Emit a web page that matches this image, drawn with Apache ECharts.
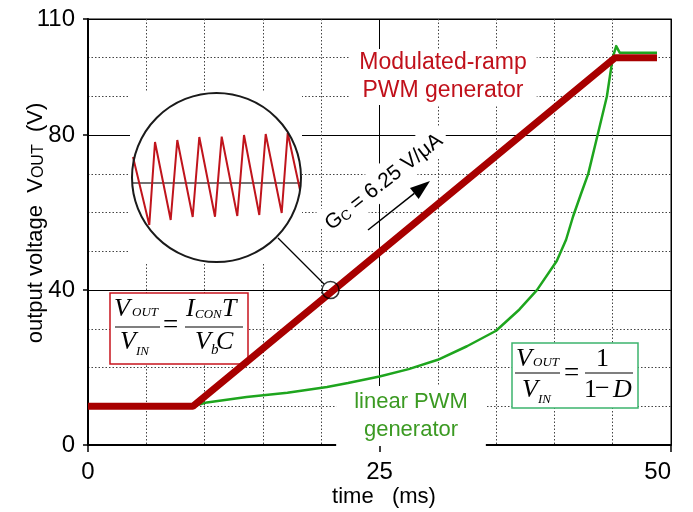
<!DOCTYPE html>
<html>
<head>
<meta charset="utf-8">
<script src="https://cdn.jsdelivr.net/npm/echarts@6/dist/echarts.min.js"></script>
<style>
  html, body { margin: 0; padding: 0; background: #fff; }
  #chart { width: 693px; height: 512px; }
</style>
</head>
<body>
<div id="chart"></div>
<script>
// modulated-ramp PWM generator (red), time in ms / volts
var rampTime = [0, 9, 45.2, 48.8];
var rampVolt = [10, 10, 100, 100];

// linear PWM generator (green)
var linTime = [0, 9, 10.2, 13.6, 17.1, 20.5, 22.3, 25, 27.5, 30, 32.5, 35, 37, 38.5, 40.2, 41, 41.6, 42.3, 42.9, 43.7, 44.5, 45, 45.3, 45.6, 48.8];
var linVolt = [10, 10, 11, 12.4, 13.5, 15, 16, 17.7, 19.6, 22, 25.5, 29.5, 35, 40, 47.5, 53, 59, 65, 70, 80, 90, 100, 103, 101.3, 101.3];

// point that the magnifier looks at
var markTime = [20.8];
var markVolt = [40];

// magnified ripple (arbitrary units inside the inset)
var zoomX = [1, 17.3, 23, 38.7, 45.3, 60.7, 67.3, 83, 89.7, 105.3, 112, 127.3, 133.7, 149.7, 155.7, 168];
var zoomY = [105, 37, 120, 42, 122, 45, 125, 45.3, 125.3, 46, 127, 47, 128, 49, 129, 72];
var zoomMeanX = [0.3, 168.7];
var zoomMeanY = [79, 79];

var xMajor = 25, xMinor = 5;
var yMajor = 40, yMinor = 10;

function pairs(xs, ys) {
    return xs.map(function (x, i) { return [x, ys[i]]; });
}

var SANS = '"Liberation Sans", Arial, sans-serif';
var SERIF = '"Liberation Serif", "Times New Roman", serif';

function txt(x, y, s, size, opts) {
    opts = opts || {};
    return {
        type: 'text', z: 4,
        style: {
            x: x, y: y, text: s,
            font: (opts.upright ? '' : 'italic ') + size + 'px ' + SERIF,
            fill: '#000', textAlign: 'left', textVerticalAlign: 'middle'
        }
    };
}
function hline(x1, x2, y) {
    return { type: 'line', z: 4, shape: { x1: x1, y1: y, x2: x2, y2: y }, style: { stroke: '#000', lineWidth: 1.2 } };
}

function arrow(x1, y1, x2, y2, head, half) {
    var dx = x2 - x1, dy = y2 - y1, len = Math.sqrt(dx * dx + dy * dy);
    var ux = dx / len, uy = dy / len;
    var bx = x2 - ux * head, by = y2 - uy * head;
    return [
        { type: 'line', z: 4, shape: { x1: x1, y1: y1, x2: bx, y2: by }, style: { stroke: '#000', lineWidth: 1.5 } },
        { type: 'polygon', z: 4, shape: { points: [[x2, y2], [bx - uy * half, by + ux * half], [bx + uy * half, by - ux * half]] }, style: { fill: '#000' } }
    ];
}

var graphics = [
    // magnifier inset
    { type: 'rect', z: 1, shape: { x: 130, y: 92, width: 172, height: 171 }, style: { fill: '#fff' } },
    { type: 'circle', z: 4, shape: { cx: 216.5, cy: 177.5, r: 84.5 }, style: { fill: 'none', stroke: '#1a1a1a', lineWidth: 2 } },
    { type: 'line', z: 4, shape: { x1: 278, y1: 238, x2: 324, y2: 284 }, style: { stroke: '#000', lineWidth: 1.3 } },

    // labels
    {
        type: 'text', z: 1,
        style: {
            x: 443, y: 77, text: 'Modulated-ramp\nPWM generator',
            font: '23px ' + SANS, fill: '#c0101a', textAlign: 'center', textVerticalAlign: 'middle',
            lineHeight: 28, backgroundColor: '#fff', padding: [0, 10]
        }
    },
    {
        type: 'text', z: 1,
        style: {
            x: 411, y: 416, text: 'linear PWM\ngenerator',
            font: '22px ' + SANS, fill: '#3b9a22', textAlign: 'center', textVerticalAlign: 'middle',
            lineHeight: 28, backgroundColor: '#fff', padding: [2, 18]
        }
    },
    {
        type: 'text', z: 1, x: 383, y: 181, rotation: 38 * Math.PI / 180,
        style: {
            x: 0, y: 0, text: '{g|G}{c|C}{g| = 6.25 V/\u03bcA}',
            textAlign: 'center', textVerticalAlign: 'middle', fill: '#000',
            backgroundColor: '#fff', padding: [4, 6],
            rich: {
                g: { font: '21px ' + SANS, fill: '#000', lineHeight: 24, verticalAlign: 'bottom' },
                c: { font: '14px ' + SANS, fill: '#000', lineHeight: 19, verticalAlign: 'bottom' }
            }
        }
    },
    // axis titles
    {
        type: 'text', z: 4, x: 34, y: 223, rotation: Math.PI / 2,
        style: {
            x: 0, y: 0, text: '{a|output voltage  V}{s|OUT}{a|  (V)}',
            textAlign: 'center', textVerticalAlign: 'middle',
            rich: {
                a: { font: '22px ' + SANS, fill: '#000', lineHeight: 25, verticalAlign: 'bottom' },
                s: { font: '16px ' + SANS, fill: '#000', lineHeight: 21, verticalAlign: 'bottom' }
            }
        }
    },
    {
        type: 'text', z: 4,
        style: {
            x: 384, y: 497, text: 'time   (ms)', font: '22px ' + SANS, fill: '#000',
            textAlign: 'center', textVerticalAlign: 'middle'
        }
    },

    // formula for the modulated ramp
    { type: 'rect', z: 1, shape: { x: 110, y: 293, width: 138, height: 71 }, style: { fill: '#fff', stroke: '#c8141e', lineWidth: 1.5 } },
    txt(114, 309, 'V', 26), txt(132, 313, 'OUT', 13),
    hline(115, 160, 327),
    txt(120, 342, 'V', 26), txt(136, 352, 'IN', 13),
    txt(163, 326, '=', 27, { upright: true }),
    txt(186, 309, 'I', 26), txt(195, 315, 'CON', 13), txt(222, 309, 'T', 26),
    hline(185, 243, 327),
    txt(195, 342, 'V', 26), txt(211, 350, 'b', 15), txt(216, 342, 'C', 26),

    // formula for the linear generator
    { type: 'rect', z: 1, shape: { x: 512, y: 343, width: 126, height: 65 }, style: { fill: '#fff', stroke: '#3cb46e', lineWidth: 1.5 } },
    txt(516, 359, 'V', 26), txt(533, 363, 'OUT', 13),
    hline(515, 560, 373),
    txt(522, 390, 'V', 26), txt(538, 400, 'IN', 13),
    txt(564, 374, '=', 27, { upright: true }),
    txt(596, 359, '1', 26, { upright: true }),
    hline(585, 633, 373),
    txt(584, 390, '1', 26, { upright: true }),
    txt(595, 389, '\u2212', 26, { upright: true }),
    txt(613, 390, 'D', 26)
].concat(arrow(368, 230, 430, 181, 20, 7));

var tickLabel = { color: '#000', fontSize: 24, fontFamily: SANS };
var dotted = { show: true, lineStyle: { color: '#444', width: 1, type: [1.5, 2] } };
var solid = { show: true, lineStyle: { color: '#000', width: 1 } };

var option = {
    animation: false,
    backgroundColor: '#fff',
    grid: [
        { left: 88, right: 22, top: 19, bottom: 67, show: true, borderColor: '#555', borderWidth: 1.5, backgroundColor: 'transparent' },
        { left: 132, top: 93, width: 169, height: 169 }
    ],
    xAxis: [
        { gridIndex: 0, type: 'value', min: 0, max: 50, interval: xMinor, position: 'bottom',
          axisLine: { show: false }, axisTick: { show: false }, axisLabel: { show: false }, splitLine: dotted },
        { gridIndex: 0, type: 'value', min: 0, max: 50, interval: xMajor, position: 'bottom',
          axisLine: { show: true, onZero: false, lineStyle: { color: '#000', width: 2 } },
          axisTick: { show: true, inside: false, length: 7, lineStyle: { color: '#000', width: 1.5 } },
          axisLabel: Object.assign({ margin: 15, alignMaxLabel: 'right' }, tickLabel),
          splitLine: solid },
        { gridIndex: 1, type: 'value', min: 0, max: 169, show: false }
    ],
    yAxis: [
        { gridIndex: 0, type: 'value', min: 0, max: 110, interval: yMinor, position: 'left',
          axisLine: { show: false }, axisTick: { show: false }, axisLabel: { show: false }, splitLine: dotted },
        { gridIndex: 0, type: 'value', min: 0, max: 110, interval: yMajor, position: 'left',
          axisLine: { show: true, onZero: false, lineStyle: { color: '#000', width: 2 } },
          axisTick: { show: true, inside: false, length: 5, lineStyle: { color: '#000', width: 1.5 } },
          axisLabel: Object.assign({ margin: 13 }, tickLabel),
          splitLine: solid },
        { gridIndex: 1, type: 'value', min: 0, max: 169, show: false }
    ],
    series: [
        { name: 'linear PWM generator', type: 'line', xAxisIndex: 0, yAxisIndex: 0, z: 2,
          data: pairs(linTime, linVolt), showSymbol: false, smooth: false,
          lineStyle: { color: '#1ea51e', width: 2.5, join: 'round' } },
        { name: 'Modulated-ramp PWM generator', type: 'line', xAxisIndex: 0, yAxisIndex: 0, z: 3,
          data: pairs(rampTime, rampVolt), showSymbol: false,
          lineStyle: { color: '#a80000', width: 7, cap: 'butt' } },
        { name: 'mark', type: 'scatter', xAxisIndex: 0, yAxisIndex: 0, z: 4,
          data: pairs(markTime, markVolt), symbol: 'circle', symbolSize: 17,
          itemStyle: { color: 'rgba(0,0,0,0)', borderColor: '#000', borderWidth: 1.5 } },
        { name: 'ripple mean', type: 'line', xAxisIndex: 2, yAxisIndex: 2, z: 2,
          data: pairs(zoomMeanX, zoomMeanY), showSymbol: false,
          lineStyle: { color: '#444', width: 1.5 } },
        { name: 'ripple', type: 'line', xAxisIndex: 2, yAxisIndex: 2, z: 3,
          data: pairs(zoomX, zoomY), showSymbol: false,
          lineStyle: { color: '#c0141c', width: 2 } }
    ],
    graphic: { elements: graphics }
};

var chart = echarts.init(document.getElementById('chart'));
chart.setOption(option);
</script>
</body>
</html>
